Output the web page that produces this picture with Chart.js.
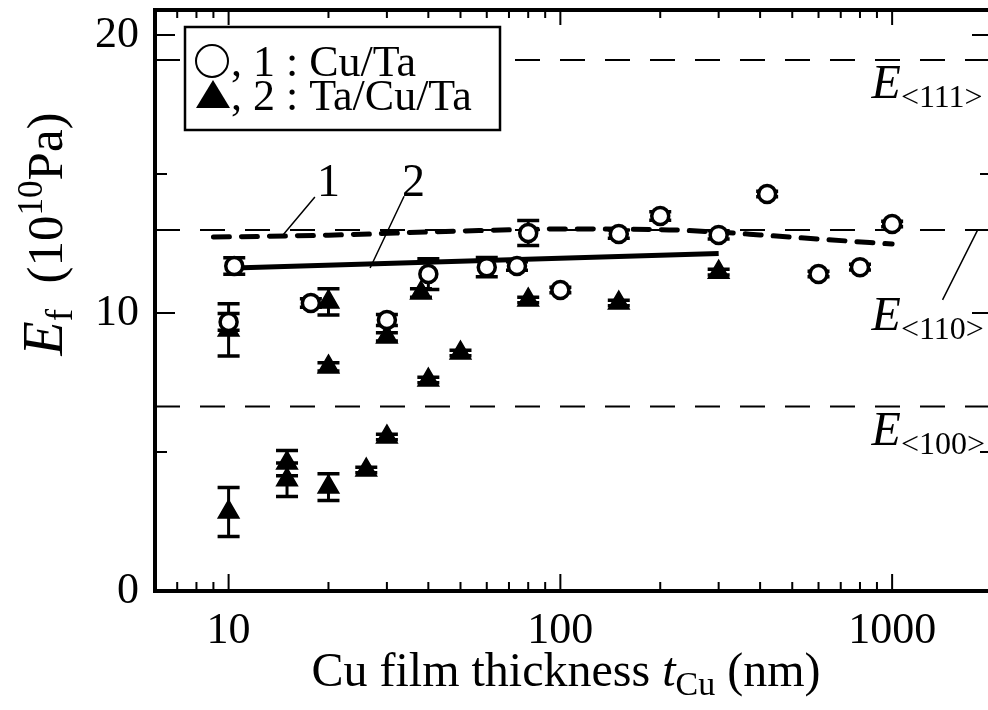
<!DOCTYPE html>
<html>
<head>
<meta charset="utf-8">
<script src="https://cdn.jsdelivr.net/npm/chart.js@4.4.0/dist/chart.umd.min.js"></script>
<style>
  html, body { margin: 0; padding: 0; background: #fff; overflow: hidden; }
  #wrap { width: 988px; height: 710px; overflow: hidden; }
</style>
</head>
<body>
<div id="wrap"><canvas id="chart" width="992" height="710"></canvas></div>
<script>
// series 1 : Cu/Ta (open circles)
const cuTaX = [10, 10.4, 17.7, 30, 40, 60, 74, 80, 100, 150, 200, 300, 420, 600, 800, 1000];
const cuTaY = [9.68, 11.69, 10.36, 9.75, 11.4, 11.65, 11.69, 12.88, 10.83, 12.84, 13.49, 12.81, 14.28, 11.4, 11.65, 13.2];
const cuTaErr = [0.3, 0.3, 0.15, 0.2, 0.55, 0.35, 0.15, 0.45, 0.1, 0.15, 0.15, 0.15, 0.1, 0.1, 0.1, 0.1];

// series 2 : Ta/Cu/Ta (filled triangles)
const taCuTaX = [10, 10, 15, 15, 20, 20, 20, 26, 30, 30, 38, 40, 50, 80, 150, 300];
const taCuTaY = [9.39, 2.84, 4.6, 4.0, 3.74, 8.06, 10.4, 4.35, 5.54, 9.14, 10.72, 7.59, 8.56, 10.47, 10.36, 11.47];
const taCuTaErr = [0.94, 0.88, 0.45, 0.6, 0.48, 0.15, 0.47, 0.1, 0.1, 0.15, 0.15, 0.1, 0.1, 0.1, 0.1, 0.1];

// trend lines
const fit1X = [9, 20, 50, 100, 200, 300, 400, 600, 1000];
const fit1Y = [12.73, 12.8, 12.95, 13.02, 13.0, 12.91, 12.81, 12.66, 12.48];
const fit2X = [10.4, 300];
const fit2Y = [11.62, 12.14];

// single crystal moduli
const refLevels = [19.1, 12.99, 6.64];
const refNames = ['<111>', '<110>', '<100>'];

const xTickLabels = [10, 100, 1000];
const yTickLabels = [0, 10, 20];
const yMinorTicks = [5, 15];

const SERIF = '"Liberation Serif", "Times New Roman", serif';
const pts = (xs, ys) => xs.map((x, i) => ({ x: x, y: ys[i] }));

// draws a run of text pieces [text, font, dy]
function drawRuns(ctx, runs, x, y, align) {
  let total = 0;
  runs.forEach(r => { ctx.font = r[1]; total += ctx.measureText(r[0]).width; });
  let cx = align === 'center' ? x - total / 2 : x;
  ctx.textBaseline = 'alphabetic';
  ctx.textAlign = 'left';
  runs.forEach(r => {
    ctx.font = r[1];
    ctx.fillText(r[0], cx, y + (r[2] || 0));
    cx += ctx.measureText(r[0]).width;
  });
}

function noPad(s) {
  s.paddingTop = 0; s.paddingBottom = 0; s.paddingLeft = 0; s.paddingRight = 0;
}

const frameTicks = {
  id: 'frameTicks',
  afterDatasetsDraw(chart) {
    const { ctx, chartArea: a, scales: { x, y } } = chart;
    ctx.save();
    ctx.strokeStyle = '#000';
    ctx.lineWidth = 2;
    // x ticks, bottom and top, pointing inward
    for (let d = 1; d <= 1000; d *= 10) {
      for (let m = 1; m <= 9; m++) {
        const v = m * d;
        if (v < 6 || v > 2000) continue;
        const px = x.getPixelForValue(v);
        const len = m === 1 ? 17 : 9;
        ctx.beginPath();
        ctx.moveTo(px, a.bottom); ctx.lineTo(px, a.bottom - len);
        ctx.moveTo(px, a.top); ctx.lineTo(px, a.top + (m === 1 ? 15 : 8));
        ctx.stroke();
      }
    }
    // y ticks, left and right
    yTickLabels.concat(yMinorTicks).forEach(v => {
      const py = y.getPixelForValue(v);
      const len = yTickLabels.includes(v) ? 20 : 12;
      ctx.beginPath();
      ctx.moveTo(a.left, py); ctx.lineTo(a.left + len, py);
      ctx.moveTo(a.right, py); ctx.lineTo(a.right - len, py);
      ctx.stroke();
    });
    // frame
    ctx.lineWidth = 4;
    ctx.strokeRect(a.left, a.top, a.right - a.left, a.bottom - a.top);
    ctx.restore();
  }
};

const errorBars = {
  id: 'errorBars',
  beforeDatasetsDraw(chart) {
    const { ctx, scales: { x, y } } = chart;
    const sets = [[cuTaX, cuTaY, cuTaErr], [taCuTaX, taCuTaY, taCuTaErr]];
    ctx.save();
    ctx.strokeStyle = '#000';
    sets.forEach(([xs, ys, es]) => {
      xs.forEach((xv, i) => {
        const px = x.getPixelForValue(xv);
        const top = y.getPixelForValue(ys[i] + es[i]);
        const bot = y.getPixelForValue(ys[i] - es[i]);
        ctx.lineWidth = 3;
        ctx.beginPath();
        ctx.moveTo(px, top); ctx.lineTo(px, bot);
        ctx.stroke();
        ctx.lineWidth = 3.5;
        ctx.beginPath();
        ctx.moveTo(px - 11, top); ctx.lineTo(px + 11, top);
        ctx.moveTo(px - 11, bot); ctx.lineTo(px + 11, bot);
        ctx.stroke();
      });
    });
    ctx.restore();
  }
};

const notes = {
  id: 'notes',
  afterDraw(chart) {
    const { ctx, chartArea: a, scales: { x, y } } = chart;
    const X = v => x.getPixelForValue(v), Y = v => y.getPixelForValue(v);
    ctx.save();
    ctx.fillStyle = '#000';
    ctx.strokeStyle = '#000';

    // curve labels with leader lines
    ctx.lineWidth = 1.5;
    ctx.beginPath();
    ctx.moveTo(X(18.2), Y(14.17)); ctx.lineTo(X(14.5), Y(12.77));
    ctx.moveTo(X(33.8), Y(14.2)); ctx.lineTo(X(26.7), Y(11.62));
    ctx.moveTo(X(1419), Y(10.47)); ctx.lineTo(X(1811), Y(12.99));
    ctx.stroke();
    drawRuns(ctx, [['1', '46px ' + SERIF]], X(20), Y(14.78) + 16, 'center');
    drawRuns(ctx, [['2', '46px ' + SERIF]], X(36.1), Y(14.78) + 16, 'center');

    // E labels
    const ePos = [17.73, 9.39, 5.25];
    refNames.forEach((n, i) => {
      drawRuns(ctx, [['E', 'italic 48px ' + SERIF], [n, '32px ' + SERIF, 9]], X(867), Y(ePos[i]), 'left');
    });

    // legend box
    const lx = a.left + 30, ly = a.top + 17;
    ctx.fillStyle = '#fff';
    ctx.fillRect(lx, ly, 315, 103);
    ctx.lineWidth = 2.5;
    ctx.strokeRect(lx, ly, 315, 103);
    ctx.fillStyle = '#000';
    ctx.lineWidth = 2;
    ctx.beginPath();
    ctx.arc(lx + 27, ly + 34, 16, 0, Math.PI * 2);
    ctx.stroke();
    ctx.beginPath();
    ctx.moveTo(lx + 28, ly + 53);
    ctx.lineTo(lx + 45, ly + 81);
    ctx.lineTo(lx + 11, ly + 81);
    ctx.closePath();
    ctx.fill();
    drawRuns(ctx, [[', 1 : Cu/Ta', '44px ' + SERIF]], lx + 46, ly + 49, 'left');
    drawRuns(ctx, [[', 2 : Ta/Cu/Ta', '44px ' + SERIF]], lx + 46, ly + 83, 'left');

    // x axis title
    drawRuns(ctx, [
      ['Cu film thickness ', '48px ' + SERIF],
      ['t', 'italic 48px ' + SERIF],
      ['Cu', '34px ' + SERIF, 9],
      [' (nm)', '48px ' + SERIF]
    ], 566, 686, 'center');

    // y axis title
    ctx.translate(62, 234);
    ctx.rotate(-Math.PI / 2);
    drawRuns(ctx, [
      ['E', 'italic 56px ' + SERIF],
      ['f', '37px ' + SERIF, 10],
      ['  (10', '51px ' + SERIF],
      ['10', '35px ' + SERIF, -20],
      ['Pa)', '51px ' + SERIF]
    ], 0, 0, 'center');
    ctx.restore();
  }
};

const refSets = refLevels.map(v => ({
  data: pts([6, 2000], [v, v]),
  showLine: true,
  borderColor: '#000',
  borderWidth: 2,
  borderDash: [25, 20],
  pointRadius: 0
}));

new Chart(document.getElementById('chart'), {
  type: 'scatter',
  data: {
    datasets: [
      {
        label: '1 : Cu/Ta',
        data: pts(cuTaX, cuTaY),
        pointStyle: 'circle',
        pointRadius: 8.5,
        pointBorderWidth: 3.5,
        pointBackgroundColor: '#fff',
        pointBorderColor: '#000'
      },
      {
        label: '2 : Ta/Cu/Ta',
        data: pts(taCuTaX, taCuTaY),
        pointStyle: 'triangle',
        pointRadius: 12,
        pointBorderWidth: 1.5,
        pointBackgroundColor: '#000',
        pointBorderColor: '#000'
      },
      {
        data: pts(fit2X, fit2Y),
        showLine: true,
        borderColor: '#000',
        borderWidth: 5,
        pointRadius: 0
      },
      {
        data: pts(fit1X, fit1Y),
        showLine: true,
        borderColor: '#000',
        borderWidth: 5,
        borderDash: [16, 12],
        borderCapStyle: 'round',
        cubicInterpolationMode: 'monotone',
        pointRadius: 0
      },
      ...refSets
    ]
  },
  options: {
    responsive: false,
    animation: false,
    devicePixelRatio: 1,
    layout: { autoPadding: false, padding: { top: 10, right: 0, left: 0, bottom: 0 } },
    plugins: { legend: { display: false }, tooltip: { enabled: false } },
    scales: {
      x: {
        type: 'logarithmic',
        min: 6,
        max: 2000,
        grid: { display: false },
        border: { display: false },
        afterBuildTicks: s => { s.ticks = xTickLabels.map(v => ({ value: v })); },
        afterFit: s => { s.height = 119; noPad(s); },
        ticks: {
          font: { family: SERIF, size: 44 },
          color: '#000',
          padding: 6,
          maxRotation: 0,
          autoSkip: false,
          callback: v => String(v)
        }
      },
      y: {
        min: 0,
        max: 20.9,
        grid: { display: false },
        border: { display: false },
        afterBuildTicks: s => { s.ticks = yTickLabels.map(v => ({ value: v })); },
        afterFit: s => { s.width = 155; noPad(s); },
        ticks: {
          font: { family: SERIF, size: 44 },
          color: '#000',
          padding: 8,
          callback: v => String(v)
        }
      }
    }
  },
  plugins: [errorBars, frameTicks, notes]
});
</script>
</body>
</html>
